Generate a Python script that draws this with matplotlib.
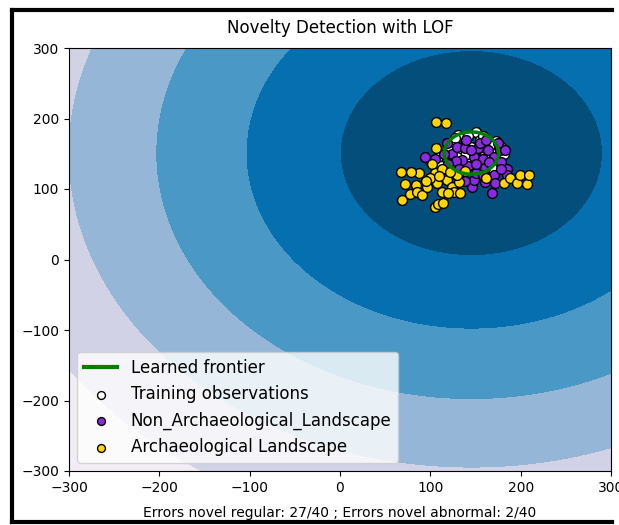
import numpy as np
import matplotlib.pyplot as plt
from matplotlib.lines import Line2D

# training observations (mostly hidden under the test points)
train_x = [131, 150, 173, 166, 127, 178, 140, 155, 145, 160, 135, 150, 165, 140, 155,
           170, 125, 145, 160, 150, 138, 148, 162, 175, 130, 120, 182, 158, 142, 168,
           100, 108, 112, 118, 125, 130]
train_y = [176, 181, 168, 162, 172, 160, 165, 170, 150, 150, 155, 140, 145, 138, 132,
           150, 160, 160, 158, 155, 148, 128, 135, 140, 145, 155, 150, 175, 175, 130,
           140, 146, 132, 128, 135, 125]

# Non_Archaeological_Landscape (novel regular)
reg_x = [94, 105, 118, 124, 130, 138, 148, 153, 158, 164, 170, 177, 183, 185, 185,
         170, 168, 146, 148, 142, 151, 160, 178, 135, 128, 155, 140, 162, 175, 115,
         132, 150, 165, 145, 158, 138, 178, 120, 172, 160]
reg_y = [146, 143, 165, 150, 160, 158, 146, 158, 143, 155, 146, 155, 155, 129, 120,
         120, 95, 103, 113, 132, 122, 130, 138, 141, 140, 165, 170, 170, 165, 150,
         128, 135, 138, 155, 120, 112, 128, 135, 108, 110]

# Archaeological Landscape (novel abnormal)
abn_x = [106, 117, 106, 67, 72, 69, 78, 87, 84, 85, 91, 96, 102, 105, 107, 113, 105,
         109, 114, 113, 118, 124, 126, 133, 132, 129, 122, 138, 162, 181, 188, 196,
         199, 207, 209, 79, 100, 120, 95, 110]
abn_y = [195, 194, 158, 124, 107, 84, 93, 122, 106, 96, 91, 103, 136, 122, 108, 96, 75,
         79, 80, 129, 113, 103, 96, 94, 110, 120, 124, 126, 116, 109, 116, 108,
         120, 107, 120, 124, 115, 94, 112, 118]

n_error_regular = 27
n_error_abnormal = 2
n_test = 40
frontier_radius = 30  # decision threshold (distance units)

fig = plt.figure(figsize=(6.19, 5.25), dpi=100)
ax = fig.add_axes([69 / 619, 54 / 525, 542 / 619, 423 / 525])

# decision function: grows with the distance to the centre of the training data
xx, yy = np.meshgrid(np.linspace(-300, 300, 500), np.linspace(-300, 300, 500))
cx, cy = np.mean(train_x), np.mean(train_y)
dist = np.hypot(xx - cx, yy - cy)
Z = frontier_radius ** 1.1 - dist ** 1.1

ax.contourf(xx, yy, Z, levels=np.linspace(Z.min(), 0, 7), cmap=plt.cm.PuBu)
ax.contourf(xx, yy, Z, levels=[0, Z.max()], colors=[plt.cm.PuBu(11 / 12)])

s = 50
b1 = ax.scatter(train_x, train_y, c="white", s=s, edgecolors="k")
b2 = ax.scatter(reg_x, reg_y, c="blueviolet", s=s, edgecolors="k")
c = ax.scatter(abn_x, abn_y, c="gold", s=s, edgecolors="k")
ax.contour(xx, yy, Z, levels=[0], linewidths=2.5, colors="green", zorder=5)

ax.set_xlim(-300, 300)
ax.set_ylim(-300, 300)
ax.set_title("Novelty Detection with LOF", pad=10.5)
ax.legend([Line2D([], [], color="green", lw=3), b1, b2, c],
          ["Learned frontier", "Training observations",
           "Non_Archaeological_Landscape", "Archaeological Landscape"],
          loc="lower left", fontsize=12, markerscale=0.8)
ax.set_xlabel("Errors novel regular: %d/%d ; Errors novel abnormal: %d/%d"
              % (n_error_regular, n_test, n_error_abnormal, n_test), labelpad=8)

# black frame of the screenshot (right side is cut off): top, left, bottom
x0, x1, top, bottom = 12 / 619, 612 / 619, 1 - 9.5 / 525, 3.5 / 525
for xs, ys in [([x0, x1], [top, top]), ([x0, x0], [top, bottom]), ([x0, x1], [bottom, bottom])]:
    fig.add_artist(Line2D(xs, ys, transform=fig.transFigure, color="black", lw=3,
                          solid_capstyle="projecting"))

fig.savefig("out.png", dpi=100)
